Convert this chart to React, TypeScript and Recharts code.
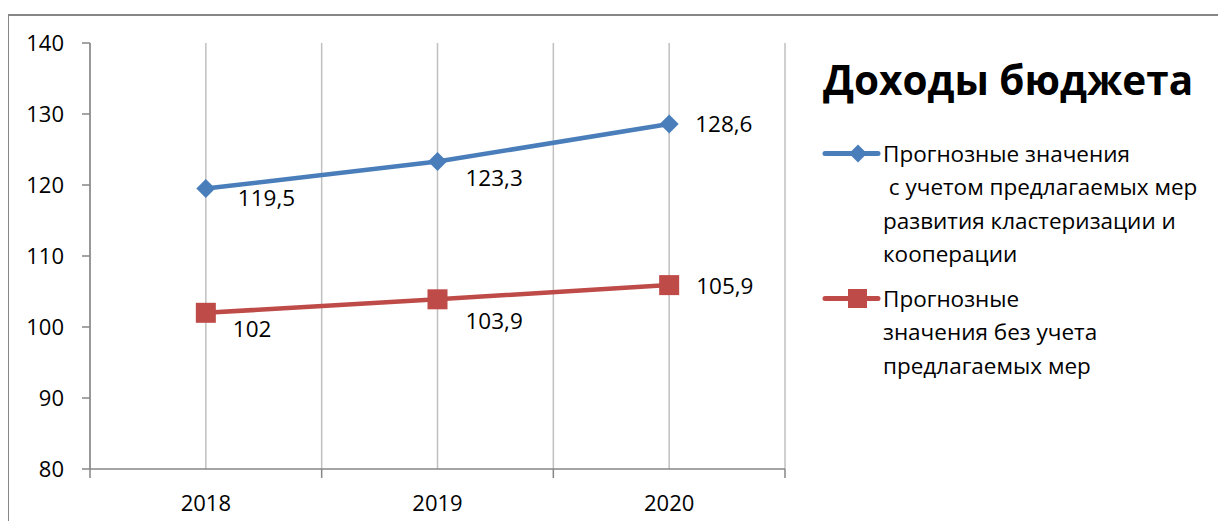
import React from "react"
import { LineChart, Line, XAxis, YAxis, CartesianGrid, Legend, LabelList } from "recharts"

const YEARS = ["2018", "2019", "2020"]
const WITH_MEASURES = [119.5, 123.3, 128.6]
const WITHOUT_MEASURES = [102, 103.9, 105.9]
const Y_TICKS = [80, 90, 100, 110, 120, 130, 140]
const X_TICKS = [0, 0.5, 1, 1.5, 2, 2.5, 3]

const NAME_WITH = "Прогнозные значения\n с учетом предлагаемых мер\nразвития кластеризации и\nкооперации"
const NAME_WITHOUT = "Прогнозные\nзначения без учета\nпредлагаемых мер"
const TITLE = "Доходы бюджета"
const SERIES_ORDER = ["withMeasures", "withoutMeasures"]

const BLUE = "#4a7ebb"
const RED = "#be4b48"
const AXIS = "#868686"
const GRID = "#c0c0c0"
const FONT = "'Open Sans', sans-serif"

const data = YEARS.map((year, i) => ({
  x: i + 0.5,
  year,
  withMeasures: WITH_MEASURES[i],
  withoutMeasures: WITHOUT_MEASURES[i],
}))

// label placement next to each point (dx to text start, dy to text middle)
const LABEL_OFFSETS: Record<string, [number, number][]> = {
  withMeasures: [[32, 9], [28, 16], [26, 0]],
  withoutMeasures: [[27, 16], [28, 21], [27, 0]],
}

const fmt = (v: number) => String(v).replace(".", ",")

const Diamond = ({ cx, cy, fill }: any) => {
  if (cx == null || cy == null) return null
  const r = 9.5
  return <polygon points={`${cx},${cy - r} ${cx + r},${cy} ${cx},${cy + r} ${cx - r},${cy}`} fill={fill} />
}

const Square = ({ cx, cy, fill }: any) => {
  if (cx == null || cy == null) return null
  const h = 10
  return <rect x={cx - h} y={cy - h} width={h * 2} height={h * 2} fill={fill} />
}

const XTick = ({ x, y, payload }: any) => {
  const v = payload.value
  if (Number.isInteger(v)) {
    return <line x1={x} x2={x} y1={y} y2={y + 9} stroke={AXIS} strokeWidth={1.5} />
  }
  return (
    <text x={x} y={y + 42} textAnchor="middle" fill="#000" fontSize={22} fontFamily={FONT}>
      {YEARS[Math.floor(v)]}
    </text>
  )
}

const makeLabel = (key: string) => (props: any) => {
  const { x, y, value, index } = props
  const [dx, dy] = LABEL_OFFSETS[key][index]
  return (
    <text x={x + dx} y={y + dy} dominantBaseline="central" fill="#000" fontSize={22.5} fontFamily={FONT}>
      {fmt(value)}
    </text>
  )
}

const LegendIcon = ({ color, square }: { color: string; square: boolean }) => (
  <svg width={60} height={33} style={{ display: "block" }}>
    <line x1={4} x2={57} y1={16.5} y2={16.5} stroke={color} strokeWidth={5} strokeLinecap="round" />
    {square ? (
      <rect x={27} y={7} width={19} height={19} fill={color} />
    ) : (
      <polygon points="37,7.5 46,16.5 37,25.5 28,16.5" fill={color} />
    )}
  </svg>
)

const renderLegend = (props: any) => {
  const payload = [...(props.payload || [])].sort(
    (a: any, b: any) => SERIES_ORDER.indexOf(a.dataKey) - SERIES_ORDER.indexOf(b.dataKey)
  )
  return (
    <div style={{ fontFamily: FONT, color: "#000", textAlign: "left" }}>
      <div style={{ fontSize: 40.5, fontWeight: 700, lineHeight: "48px", whiteSpace: "nowrap" }}>{TITLE}</div>
      {payload.map((entry: any, i: number) => (
        <div key={entry.dataKey} style={{ display: "flex", marginTop: i === 0 ? 33 : 12 }}>
          <div style={{ width: 62, flex: "none", marginLeft: -2 }}>
            <LegendIcon color={entry.color} square={entry.dataKey === "withoutMeasures"} />
          </div>
          <div style={{ fontSize: 22.5, lineHeight: "33.3px", whiteSpace: "pre" }}>{entry.value}</div>
        </div>
      ))}
    </div>
  )
}

export default function App() {
  return (
    <div style={{ position: "relative", width: 1210, height: 513 }}>
      <style>{"body{overflow:hidden}"}</style>
      <div
        style={{
          position: "absolute",
          left: -1,
          top: 6,
          width: 1260,
          height: 600,
          borderLeft: `2px solid ${AXIS}`,
          borderTop: `2px solid ${AXIS}`,
        }}
      />
      <LineChart
        width={1210}
        height={513}
        data={data}
        margin={{ top: 35, right: 433, left: 22, bottom: 12 }}
        style={{ position: "absolute", left: 0, top: 0 }}
      >
        <CartesianGrid horizontal={false} stroke={GRID} strokeWidth={1.5} />
        <XAxis
          dataKey="x"
          type="number"
          domain={[0, 3]}
          ticks={X_TICKS}
          interval={0}
          height={40}
          tickSize={0}
          tickMargin={0}
          tickLine={false}
          tick={<XTick />}
          axisLine={{ stroke: AXIS, strokeWidth: 1.5 }}
        />
        <YAxis
          type="number"
          domain={[80, 140]}
          ticks={Y_TICKS}
          interval={0}
          width={60}
          tickSize={8}
          tickMargin={18}
          tickLine={{ stroke: AXIS, strokeWidth: 1.5 }}
          axisLine={{ stroke: AXIS, strokeWidth: 1.5 }}
          tick={{ fill: "#000", fontSize: 22, fontFamily: FONT }}
        />
        <Legend
          layout="horizontal"
          verticalAlign="middle"
          align="center"
          content={renderLegend}
          wrapperStyle={{ left: 815, top: 48, width: 395, height: "auto" }}
        />
        <Line
          dataKey="withMeasures"
          name={NAME_WITH}
          stroke={BLUE}
          fill={BLUE}
          strokeWidth={4.5}
          dot={<Diamond fill={BLUE} />}
          activeDot={false}
          isAnimationActive={false}
        >
          <LabelList dataKey="withMeasures" content={makeLabel("withMeasures")} />
        </Line>
        <Line
          dataKey="withoutMeasures"
          name={NAME_WITHOUT}
          stroke={RED}
          fill={RED}
          strokeWidth={4.5}
          dot={<Square fill={RED} />}
          activeDot={false}
          isAnimationActive={false}
        >
          <LabelList dataKey="withoutMeasures" content={makeLabel("withoutMeasures")} />
        </Line>
      </LineChart>
    </div>
  )
}
